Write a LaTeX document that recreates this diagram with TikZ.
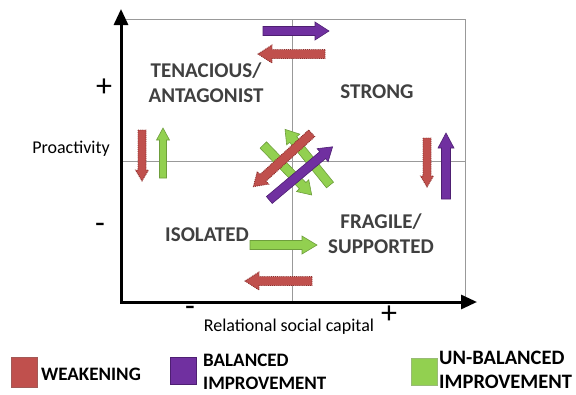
\documentclass[tikz,border=0pt]{standalone}
\usepackage{fontspec}
\setmainfont{Carlito}
\usetikzlibrary{arrows.meta}
\definecolor{wred}{HTML}{C0504D}
\definecolor{wredline}{HTML}{8C2F2C}
\definecolor{bpur}{HTML}{7030A0}
\definecolor{bpurline}{HTML}{4E1F72}
\definecolor{ugreen}{HTML}{92D050}
\definecolor{ugreenline}{HTML}{6E9E3C}
\definecolor{qtext}{HTML}{404040}
\newcommand\blkarrow[8]{%
 \pgfmathsetmacro\baang{atan2(#2-#4,#3-#1)}%
 \pgfmathsetmacro\balen{veclen(#3-#1,#4-#2)}%
 \begin{scope}[shift={(#1,#2)},rotate=\baang]
 \filldraw[#8] (0,#5) -- (\balen-#7,#5) -- (\balen-#7,#6) -- (\balen,0) -- (\balen-#7,-#6) -- (\balen-#7,-#5) -- (0,-#5) -- cycle;
 \end{scope}}
\tikzset{
 grid/.style={draw=gray!80, line width=0.9pt},
 axis/.style={line width=3pt, {Triangle[length=16pt,width=14pt]}-{Triangle[length=16pt,width=14pt]}},
 quad/.style={font=\bfseries\fontsize{21}{25}\selectfont, text=qtext, align=center, inner sep=0pt},
 sign/.style={font=\fontsize{32}{34}\selectfont, inner sep=0pt},
 lab/.style={font=\fontsize{18}{20}\selectfont, inner sep=0pt},
 leg/.style={font=\bfseries\fontsize{19}{23.5}\selectfont, align=left, anchor=west, inner sep=0pt},
 legb/.style={leg, font=\bfseries\fontsize{20.5}{24}\selectfont},
 weak/.style={fill=wred, draw=wredline, line width=0.9pt, densely dotted},
 bal/.style={fill=bpur, draw=bpurline, line width=0.6pt},
 unbal/.style={fill=ugreen, draw=ugreenline, line width=0.6pt},
}
\begin{document}
\begin{tikzpicture}[x=1pt,y=-1pt]
\useasboundingbox (0,0) rectangle (576,394);
% frame and quadrant lines
\coordinate (TL) at (121,19);
\coordinate (BR) at (465,302);
\coordinate (MT) at (292,19);
\coordinate (MB) at (292,302);
\coordinate (ML) at (121,161);
\coordinate (MR) at (465,161);
\draw[grid] (TL) rectangle (BR);
\draw[grid] (MT) -- (MB);
\draw[grid] (ML) -- (MR);
% axes
\coordinate (Ytop) at (121,9);
\coordinate (O) at (121,302);
\coordinate (Xend) at (477,302);
\draw[axis] (Ytop) -- (O) -- (Xend);
% quadrant labels
\node[quad] (ten) at (206,83) {TENACIOUS/\\ANTAGONIST};
\node[quad] (str) at (377,92) {STRONG};
\node[quad] (iso) at (207,235) {ISOLATED};
\node[quad] (fra) at (381,234) {FRAGILE/\\SUPPORTED};
% axis labels
\node[sign] (yplus) at (104,88) {+};
\node[sign] (yminus) at (100,228) {-};
\node[lab] (pro) at (71,149) {Proactivity};
\node[sign] (xminus) at (190,311) {-};
\node[sign] (xplus) at (389,315) {+};
\node[lab] (rel) at (289,327) {Relational social capital};
% arrows (green first)
\blkarrow{263.3}{145}{311.7}{195}{4.5}{8.5}{13}{unbal}
\blkarrow{330}{185}{285}{129.3}{4.5}{8.5}{13}{unbal}
\blkarrow{311.7}{133.3}{253.3}{186.7}{4.5}{8.5}{13}{weak}
\blkarrow{269.3}{200}{332.7}{146.7}{4.5}{8.5}{13}{bal}
\blkarrow{263}{31}{329}{31}{4.5}{9}{14}{bal}
\blkarrow{325}{54}{258}{54}{4.5}{9}{14}{weak}
\blkarrow{142}{130}{142}{181}{4}{6.5}{11}{weak}
\blkarrow{163}{178}{163}{128}{3.5}{6.5}{12}{unbal}
\blkarrow{427}{138}{427}{187}{4}{6.5}{11}{weak}
\blkarrow{446}{199}{446}{133}{4.5}{8}{15}{bal}
\blkarrow{250}{245}{317}{245}{4.5}{9}{15}{unbal}
\blkarrow{312}{281}{245}{281}{4.5}{9}{14}{weak}
% legend
\filldraw[fill=wred, draw=wredline!80, line width=0.6pt] (11,357) rectangle (37,387);
\node[leg] (lw) at (41,374) {WEAKENING};
\filldraw[fill=bpur, draw=bpurline, line width=0.6pt] (170,357) rectangle (196,384);
\node[leg] (lb) at (203,372) {BALANCED\\IMPROVEMENT};
\filldraw[fill=ugreen, draw=ugreenline!70, line width=0.6pt] (411,358) rectangle (437,385);
\node[legb] (lu) at (439,370) {UN-BALANCED\\IMPROVEMENT};
\end{tikzpicture}
\end{document}
